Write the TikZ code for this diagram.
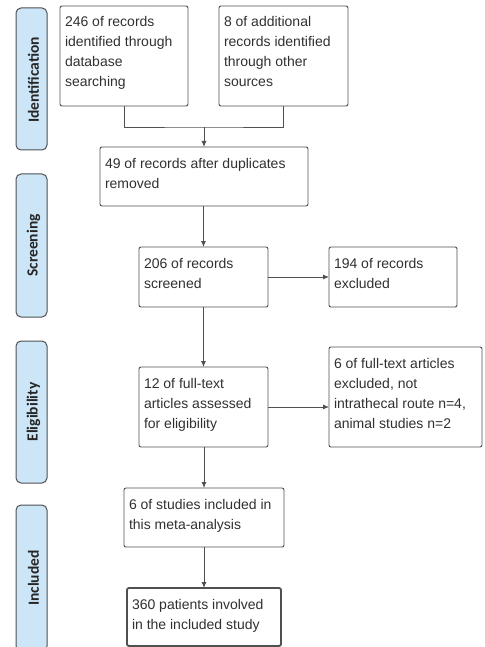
\documentclass[tikz,border=0pt]{standalone}
\usepackage{fontspec}
\setmainfont{Liberation Sans}
\newfontfamily\lblfont{Carlito}
\usetikzlibrary{arrows.meta}
\definecolor{linegray}{HTML}{505050}
\definecolor{txtgray}{HTML}{303030}
\definecolor{lblfill}{HTML}{CCE6F7}
\newcommand{\bt}[3]{\parbox[c][#1][t]{#2}{\fontsize{14pt}{20pt}\selectfont\rule{0pt}{21pt}#3}}
\begin{document}
\begin{tikzpicture}[x=1pt,y=-1pt,
  box/.style={draw=linegray, line width=0.9pt, rounded corners=2pt, inner xsep=5pt, inner ysep=0pt, outer sep=0pt, anchor=north west, text=txtgray, align=left},
  lbl/.style={draw=linegray, line width=1pt, fill=lblfill, rounded corners=5pt, rotate=90, minimum height=31pt, inner sep=0pt, outer sep=0pt},
  lbltxt/.style={rotate=90, font=\lblfont\bfseries\fontsize{15.5pt}{18pt}\selectfont, text=black!85, inner sep=0pt},
  arr/.style={draw=linegray, line width=0.9pt, -{Latex[length=6pt,width=5pt]}},
  ln/.style={draw=linegray, line width=0.9pt}]
\useasboundingbox (0,0) rectangle (484,647);
% side labels
\node[lbl, minimum width=142pt] (l1) at (31.5,79) {};
\node[lbltxt] (t1) at (33.5,80) {Identification};
\node[lbl, minimum width=143pt] (l2) at (31.5,245.5) {};
\node[lbltxt] (t2) at (33.5,245.5) {Screening};
\node[lbl, minimum width=142pt] (l3) at (31.5,412) {};
\node[lbltxt] (t3) at (33.5,412) {Eligibility};
\node[lbl, minimum width=146pt] (l4) at (31.5,578) {};
\node[lbltxt] (t4) at (33.5,578) {Included};
% boxes
\node[box] (a) at (60,6) {\bt{100pt}{118pt}{246 of records\\identified through\\database\\searching}};
\node[box] (b) at (219,6) {\bt{100pt}{119pt}{8 of additional\\records identified\\through other\\sources}};
\node[box] (c) at (100,147) {\bt{59pt}{198pt}{49 of records after duplicates\\removed}};
\node[box] (d) at (139,247) {\bt{60pt}{119pt}{206 of records\\screened}};
\node[box] (e) at (329,247) {\bt{60pt}{118pt}{194 of records\\excluded}};
\node[box] (f) at (139,367) {\bt{80pt}{119pt}{12 of full-text\\articles assessed\\for eligibility}};
\node[box] (g) at (329,347) {\bt{100pt}{143pt}{6 of full-text articles\\excluded, not\\intrathecal route n=4,\\animal studies n=2}};
\node[box] (h) at (124,488) {\bt{59pt}{150pt}{6 of studies included in\\this meta-analysis}};
\node[box, line width=1.8pt] (i) at (127,588) {\bt{58pt}{144pt}{360 patients involved\\in the included study}};
% connectors
\coordinate (m) at (204,127);
\draw[ln] (a.south) |- (m) -| (b.south);
\draw[arr] (m) -- (c.north -| m);
\draw[arr] (c.south -| d.north) -- (d.north);
\draw[arr] (d.east) -- (e.west |- d.east);
\draw[arr] (d.south) -- (f.north);
\draw[arr] (f.east) -- (g.west |- f.east);
\draw[arr] (f.south -| h.north) -- (h.north);
\draw[arr] (h.south) -- (i.north);
\end{tikzpicture}
\end{document}
